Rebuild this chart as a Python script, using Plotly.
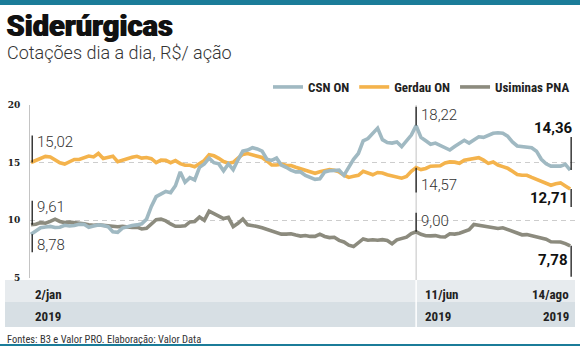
import pandas as pd
import plotly.graph_objects as go

# ---------------- data ----------------
start_date = "2019-01-02"
n_points = 113  # every 2 calendar days, 2/jan .. 14/ago 2019

csn_on = [
    8.78, 9.10, 9.35, 9.42, 9.47, 9.38, 9.40, 9.57, 9.50, 9.55,
    9.65, 9.65, 9.40, 9.50, 9.60, 9.55, 9.45, 9.00, 8.95, 9.32,
    9.47, 9.54, 9.60, 9.70, 10.10, 11.20, 12.05, 12.30, 12.50, 12.40,
    13.00, 14.20, 13.30, 13.70, 13.50, 14.60, 14.90, 15.40, 15.00, 14.90,
    14.30, 14.90, 14.40, 15.25, 16.00, 16.10, 16.30, 16.20, 16.00, 15.30,
    15.20, 15.40, 14.80, 14.60, 14.35, 14.20, 14.20, 13.90, 13.75, 13.55,
    13.60, 14.20, 14.30, 14.30, 14.35, 13.90, 14.60, 15.30, 15.80, 16.90,
    17.10, 17.60, 18.00, 17.00, 16.75, 16.70, 16.80, 16.40, 16.90, 17.40,
    18.22, 17.20, 16.90, 16.60, 16.70, 16.50, 16.30, 16.10, 16.40, 16.70,
    16.95, 16.70, 16.95, 17.25, 17.20, 17.40, 17.55, 17.60, 17.55, 17.30,
    16.80, 16.45, 16.38, 16.38, 16.30, 16.00, 15.30, 14.90, 14.70, 14.70,
    14.70, 14.85, 14.36,
]

gerdau_on = [
    15.02, 15.20, 15.32, 15.55, 15.50, 15.25, 15.00, 14.88, 15.12, 15.28,
    15.28, 15.40, 15.58, 15.50, 15.80, 15.37, 15.51, 15.57, 15.08, 15.22,
    15.37, 15.47, 15.56, 15.40, 15.45, 15.35, 15.00, 15.22, 15.20, 15.00,
    15.18, 14.92, 14.78, 14.78, 14.65, 14.93, 15.20, 15.70, 15.60, 15.38,
    15.10, 14.96, 15.03, 15.40, 15.72, 15.80, 15.70, 15.57, 15.45, 15.15,
    14.80, 14.80, 14.87, 14.78, 14.75, 14.60, 14.45, 14.32, 14.17, 14.08,
    14.22, 14.30, 14.40, 14.35, 14.20, 13.91, 13.72, 13.82, 13.90, 14.25,
    14.10, 13.95, 14.15, 14.10, 13.95, 13.86, 13.76, 13.66, 13.80, 14.25,
    14.57, 14.40, 14.50, 14.70, 14.72, 14.73, 14.97, 15.07, 15.05, 14.95,
    15.22, 15.29, 15.37, 15.44, 15.22, 14.94, 15.06, 14.80, 14.66, 14.52,
    14.25, 13.98, 13.91, 13.91, 13.72, 13.53, 13.39, 13.17, 13.04, 13.18,
    13.25, 12.98, 12.71,
]

usiminas_pna = [
    9.61, 9.66, 9.80, 9.75, 9.90, 10.10, 9.90, 9.80, 9.84, 9.80,
    9.80, 9.70, 9.62, 9.57, 9.60, 9.55, 9.57, 9.45, 9.44, 9.47,
    9.42, 9.37, 9.41, 9.25, 9.30, 9.70, 10.05, 10.10, 9.95, 9.68,
    9.48, 9.48, 9.52, 9.86, 9.90, 10.28, 10.00, 10.80, 10.60, 10.32,
    10.15, 10.25, 9.45, 9.74, 10.10, 9.60, 9.57, 9.47, 9.35, 9.20,
    9.06, 8.92, 8.80, 8.80, 8.83, 8.72, 8.63, 8.68, 8.60, 8.60,
    8.80, 8.60, 8.50, 8.53, 8.26, 8.12, 7.84, 7.72, 8.05, 8.38,
    8.27, 8.31, 8.27, 8.32, 8.25, 7.97, 8.30, 8.40, 8.53, 8.85,
    9.00, 8.78, 8.66, 8.65, 8.67, 8.57, 8.55, 8.83, 8.80, 8.87,
    9.00, 9.18, 9.64, 9.57, 9.48, 9.42, 9.36, 9.29, 9.35, 9.20,
    9.10, 8.90, 8.74, 8.76, 8.65, 8.57, 8.51, 8.36, 8.14, 8.10,
    8.12, 7.98, 7.78,
]

y_ticks = [5, 10, 15, 20]
date_labels = ["2/jan", "11/jun", "14/ago"]
year_labels = ["2019", "2019", "2019"]
mark_date = "2019-06-11"
end_date = "2019-08-14"

dates = pd.date_range(start_date, periods=n_points, freq="2D")

# ---------------- styling ----------------
C_CSN = "#a0b9c2"
C_GER = "#f4b34c"
C_USI = "#8c8b7e"
TEAL = "#1b7c99"
W, H = 580, 350
L, R, T, B = 30, 575, 105, 278          # plot area in pixels


def px_x(x):
    return (x - L) / (R - L)


def px_y(y):
    return (B - y) / (B - T)


COND = "Liberation Sans Narrow, Roboto Condensed, Roboto, sans-serif"

fig = go.Figure()
for name, vals, col in [("Usiminas PNA", usiminas_pna, C_USI),
                        ("Gerdau ON", gerdau_on, C_GER),
                        ("CSN ON", csn_on, C_CSN)]:
    fig.add_trace(go.Scatter(x=dates, y=vals, mode="lines", name=name,
                             line=dict(color=col, width=3.6),
                             hoverinfo="skip"))

fig.update_layout(
    width=W, height=H,
    margin=dict(l=L, r=W - R, t=T, b=H - B, pad=0),
    paper_bgcolor="white", plot_bgcolor="white",
    showlegend=True,
    legend=dict(orientation="h", traceorder="reversed",
                x=1.0, xanchor="right", y=px_y(87), yanchor="middle",
                font=dict(family=COND, size=13, color="#222", weight="bold"),
                itemwidth=30, bgcolor="rgba(0,0,0,0)"),
    xaxis=dict(type="date",
               range=["2019-01-01 14:00", "2019-08-16"],
               showgrid=False, showticklabels=False, zeroline=False,
               showline=False, fixedrange=True),
    yaxis=dict(range=[4.99, 20.01], tickvals=y_ticks,
               showgrid=True, gridcolor="#cdcdcd", gridwidth=1,
               griddash="5px,4px",
               showline=True, linecolor="#c4c4c4", linewidth=1,
               zeroline=False, ticks="",
               ticklabelstandoff=7,
               tickfont=dict(family="DejaVu Serif", size=9, color="#222",
                             weight="bold")),
)

shapes = []
annos = []

# top and bottom teal rules
shapes.append(dict(type="rect", xref="paper", yref="paper",
                   x0=px_x(0), x1=px_x(W), y0=px_y(0), y1=px_y(5),
                   fillcolor=TEAL, line_width=0, layer="above"))
shapes.append(dict(type="rect", xref="paper", yref="paper",
                   x0=px_x(0), x1=px_x(W), y0=px_y(344), y1=px_y(346),
                   fillcolor=TEAL, line_width=0))

# date bands
for (y0, y1, col) in [(280, 302, "#e7ebee"), (302, 327, "#d7dfe4")]:
    shapes.append(dict(type="rect", xref="paper", yref="paper",
                       x0=px_x(5), x1=px_x(575), y0=px_y(y1), y1=px_y(y0),
                       fillcolor=col, line_width=0, layer="below"))

# vertical marker at 11/jun (plot + white separator in bands)
shapes.append(dict(type="line", xref="x", yref="paper",
                   x0=mark_date, x1=mark_date, y0=px_y(280), y1=1,
                   line=dict(color="#c2c2c2", width=1), layer="below"))
shapes.append(dict(type="line", xref="x", yref="paper",
                   x0=mark_date, x1=mark_date, y0=px_y(327), y1=px_y(280),
                   line=dict(color="white", width=1.5), layer="above"))

# band texts
band_font = dict(family=COND, size=13, color="#222", weight="bold")
for d, lab, yr, anchor, shift in [(start_date, date_labels[0], year_labels[0], "left", 2),
                                  (mark_date, date_labels[1], year_labels[1], "left", 7),
                                  (end_date, date_labels[2], year_labels[2], "right", 1)]:
    annos.append(dict(x=d, xref="x", y=px_y(294), yref="paper", text=lab,
                      showarrow=False, xanchor=anchor, yanchor="middle",
                      xshift=shift, font=band_font))
    annos.append(dict(x=d, xref="x", y=px_y(316), yref="paper", text=yr,
                      showarrow=False, xanchor=anchor, yanchor="middle",
                      xshift=shift, font=band_font))

# value callouts
PXU = (B - T) / 15.0
callouts = [
    (start_date, gerdau_on[0], "15,02", -27, 20.5, "left", 3, False, 0.5),
    (start_date, usiminas_pna[0], "9,61", -24, 18, "left", 3, False, 0.5),
    (start_date, csn_on[0], "8,78", 18, -10.5, "left", 3, False, 0.5),
    (mark_date, csn_on[80], "18,22", -19, 10.5, "left", 3, False, 0),
    (mark_date, gerdau_on[80], "14,57", 25, -17.5, "left", 3, False, 0),
    (mark_date, usiminas_pna[80], "9,00", -19, 10.5, "left", 3, False, 0),
    (end_date, csn_on[-1], "14,36", -33, 42, "right", 4, True, 0.4),
    (end_date, gerdau_on[-1], "12,71", 18, -9, "right", -1, True, 0.4),
    (end_date, usiminas_pna[-1], "7,78", 31, -14, "right", -1, True, 0.4),
]
for d, v, txt, dy, ys, anchor, xs, bold, dshift in callouts:
    dd = pd.Timestamp(d) + pd.Timedelta(days=dshift)
    shapes.append(dict(type="line", xref="x", yref="y",
                       x0=dd, x1=dd, y0=v, y1=v - dy / PXU,
                       line=dict(color="#1a1a1a", width=1.3), layer="above"))
    annos.append(dict(x=dd, xref="x", y=v, yref="y", text=txt,
                      showarrow=False, xanchor=anchor, yanchor="middle",
                      xshift=xs, yshift=ys,
                      font=dict(family="Roboto", size=15,
                                color="#111" if bold else "#333",
                                weight="bold" if bold else 300)))

# title (drawn twice, offset slightly, for the heavy face), subtitle, footer
for xs in (0, 0.8):
    annos.append(dict(x=px_x(4), xref="paper", y=px_y(26), yref="paper",
                      text="Siderúrgicas", showarrow=False, xanchor="left",
                      yanchor="middle", xshift=xs,
                      font=dict(family="Roboto", size=29, color="#111",
                                weight=900)))
annos.append(dict(x=px_x(5), xref="paper", y=px_y(53), yref="paper",
                  text="Cotações dia a dia, R$/ ação", showarrow=False,
                  xanchor="left", yanchor="middle",
                  font=dict(family="Roboto", size=18, color="#333", weight=300)))
annos.append(dict(x=px_x(5), xref="paper", y=px_y(339), yref="paper",
                  text="Fontes: B3 e Valor PRO. Elaboração: Valor Data",
                  showarrow=False, xanchor="left", yanchor="middle",
                  font=dict(family=COND, size=10.5, color="#333")))

fig.update_layout(shapes=shapes, annotations=annos)
fig.write_html("out.html", config={"displayModeBar": False})
